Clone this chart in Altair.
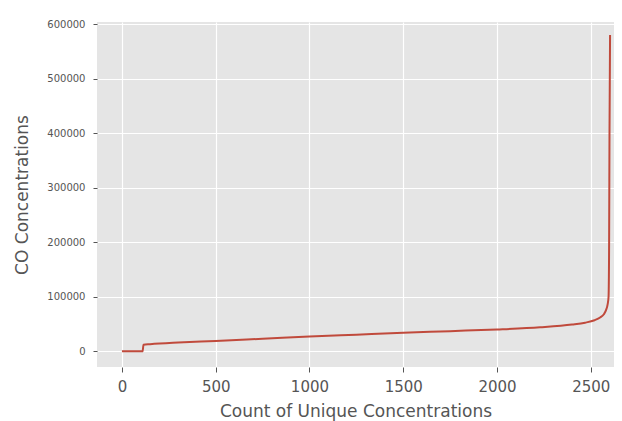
import altair as alt
import pandas as pd

# Sorted CO concentration values
counts = [0, 110, 115, 150, 300, 500, 750, 1000, 1250, 1500, 1750, 2000, 2230,
          2400, 2470, 2520, 2550, 2570, 2582, 2590, 2595, 2598, 2600, 2603]
co_values = [0, 0, 12000, 13000, 16000, 19000, 23000, 27000, 30500, 34000, 37000,
             40000, 44000, 49000, 52500, 57000, 62000, 68000, 76000, 86000, 100000,
             200000, 400000, 580000]

x_ticks = [0, 500, 1000, 1500, 2000, 2500]
y_ticks = [0, 100000, 200000, 300000, 400000, 500000, 600000]

df = pd.DataFrame({"count": counts, "co": co_values})

chart = alt.Chart(df).mark_line(color="#C04A3C", strokeWidth=2, interpolate="monotone").encode(
    x=alt.X("count:Q",
            title="Count of Unique Concentrations",
            scale=alt.Scale(domain=[-133, 2624], nice=False, zero=False),
            axis=alt.Axis(values=x_ticks, labelFontSize=15, titleFontSize=17,
                          labelPadding=7, titlePadding=9, tickSize=5, format="d")),
    y=alt.Y("co:Q",
            title="CO Concentrations",
            scale=alt.Scale(domain=[-28750, 603750], nice=False, zero=False),
            axis=alt.Axis(values=y_ticks, labelFontSize=10, titleFontSize=17,
                          labelPadding=8, titlePadding=15, tickSize=4, format="d")),
).properties(
    width=517,
    height=345,
    autosize=alt.AutoSizeParams(type="none"),
    padding={"left": 89, "top": 14, "right": 0, "bottom": 56},
    background="white",
).configure_view(
    fill="#E5E5E5", stroke=None
).configure_axis(
    grid=True, gridColor="white", gridWidth=1.2, domain=False,
    tickColor="#555555", labelColor="#555555", titleColor="#555555",
    labelFont="DejaVu Sans", titleFont="DejaVu Sans", titleFontWeight="normal",
)

chart.save("out.html", embed_options={"renderer": "svg", "actions": False})
